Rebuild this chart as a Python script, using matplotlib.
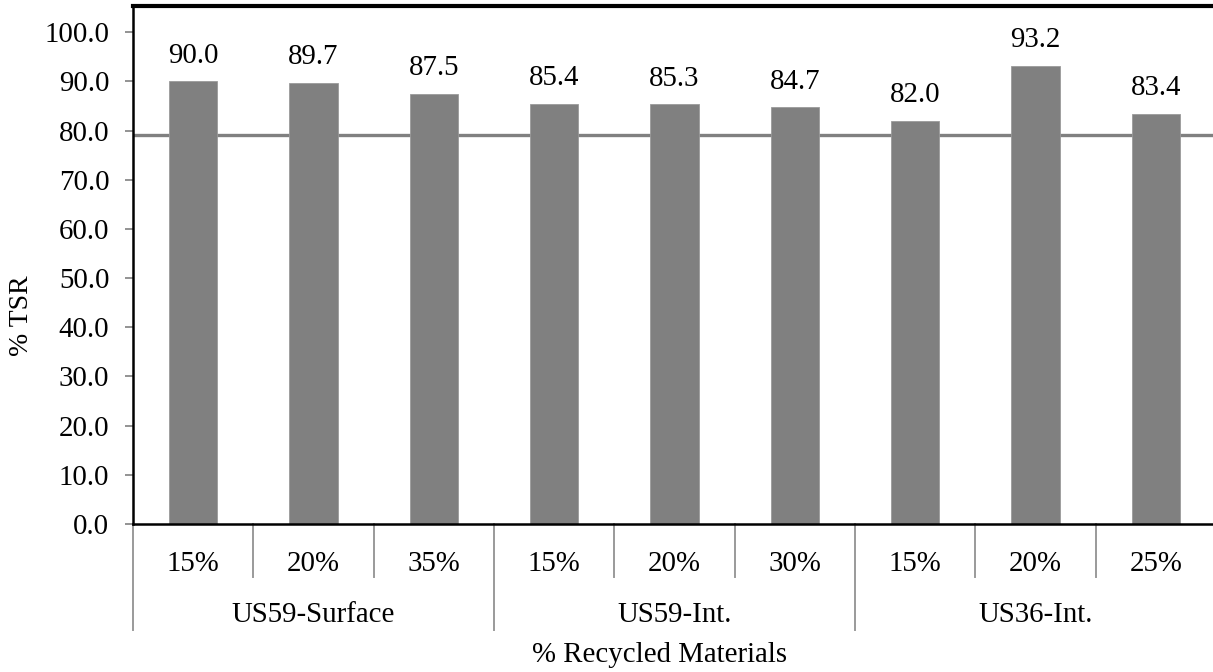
import numpy as np
import matplotlib.pyplot as plt

plt.rcParams["font.family"] = ["Liberation Serif", "DejaVu Serif"]

groups = ["US59-Surface", "US59-Int.", "US36-Int."]
rap = [["15%", "20%", "35%"], ["15%", "20%", "30%"], ["15%", "20%", "25%"]]
tsr = [90.0, 89.7, 87.5, 85.4, 85.3, 84.7, 82.0, 93.2, 83.4]
tsr_limit = 79.0

labels = [p for g in rap for p in g]
x = np.arange(len(labels))
fs = 20.8

fig = plt.figure(figsize=(12.13, 6.72), dpi=100)
ax = fig.add_axes([0.1096, 0.2202, 0.8929, 0.7708])

# threshold line sits behind the bars
ax.axhline(tsr_limit, color="#808080", lw=2.4, zorder=1)
bars = ax.bar(x, tsr, width=0.4, color="#808080", edgecolor="#9a9a9a",
              linewidth=0.6, zorder=2)
for xi, v in zip(x, tsr):
    ax.annotate(f"{v:.1f}", (xi, v), xytext=(0, 9), textcoords="offset points",
                ha="center", va="bottom", fontsize=fs)

ax.set_xlim(-0.5, len(labels) - 0.5)
ax.set_ylim(0, 105.3)
ax.set_yticks(np.arange(0, 101, 10))
ax.set_yticklabels([f"{t:.1f}" for t in np.arange(0, 101, 10)], fontsize=fs)
ax.tick_params(axis="y", length=6, width=1.2, color="#808080", pad=11)
ax.set_xticks([])

ax.spines["right"].set_visible(False)
ax.spines["top"].set_linewidth(3)
ax.spines["left"].set_linewidth(1.8)
ax.spines["bottom"].set_linewidth(1.8)

# two-level category axis drawn under the plot
tr = ax.get_xaxis_transform()
sep = "#9a9a9a"
for i in range(len(labels) + 1):
    b = i - 0.5
    y_end = -0.205 if i % 3 == 0 else -0.102
    ax.plot([b, b], [0, y_end], transform=tr, color=sep, lw=1.4, clip_on=False)
for xi, lab in zip(x, labels):
    ax.text(xi, -0.077, lab, transform=tr, ha="center", va="center", fontsize=fs)
for gi, g in enumerate(groups):
    ax.text(gi * 3 + 1, -0.175, g, transform=tr, ha="center", va="center", fontsize=fs)

fig.text(660 / 1213, 1 - 655 / 672, "% Recycled Materials", ha="center",
         va="center", fontsize=fs)
fig.text(21 / 1213, 1 - 316 / 672, "% TSR", ha="center", va="center",
         rotation=90, fontsize=20)

fig.savefig("out.png", dpi=100)
